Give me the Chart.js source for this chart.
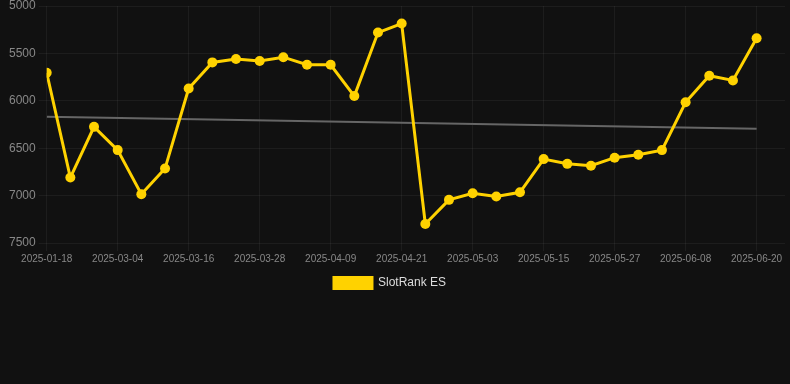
<!DOCTYPE html>
<html>
<head>
<meta charset="utf-8">
<script src="https://cdn.jsdelivr.net/npm/chart.js@4/dist/chart.umd.min.js"></script>
<style>
  html, body { margin: 0; padding: 0; background: #111111; }
  #wrap { width: 790px; height: 299px; position: relative; }
</style>
</head>
<body>
<div id="wrap"><canvas id="myChart"></canvas></div>
<script>
// dates of each point (one every 4 days after 03-04)
const dates = [
    "2025-01-18", "2025-02-24", "2025-02-28", "2025-03-04", "2025-03-08",
    "2025-03-12", "2025-03-16", "2025-03-20", "2025-03-24", "2025-03-28",
    "2025-04-01", "2025-04-05", "2025-04-09", "2025-04-13", "2025-04-17",
    "2025-04-21", "2025-04-25", "2025-04-29", "2025-05-03", "2025-05-07",
    "2025-05-11", "2025-05-15", "2025-05-19", "2025-05-23", "2025-05-27",
    "2025-05-31", "2025-06-04", "2025-06-08", "2025-06-12", "2025-06-16",
    "2025-06-20"
];
const rankES = [
    5705, 6810, 6275, 6520, 6985, 6715, 5870, 5595, 5560, 5580,
    5540, 5620, 5620, 5950, 5280, 5185, 7300, 7045, 6975, 7010,
    6965, 6615, 6665, 6685, 6600, 6570, 6520, 6015, 5735, 5785,
    5340
];
// trend line, only start and end
const trendStart = 6168;
const trendEnd = 6295;

const yTicks = [5000, 5500, 6000, 6500, 7000, 7500];
const labelStep = 3;

var mainData = [];
for (let i = 0; i < rankES.length; i++) {
    mainData.push({x: i, y: rankES[i]});
}
var trendData = [
    {x: 0, y: trendStart},
    {x: rankES.length - 1, y: trendEnd}
];

// legend sits a little left of centre in the original
const legendShift = {
    id: 'legendShift',
    afterLayout: function (chart) {
        chart.legend.left = 0;
        chart.legend.right = chart.width - 10;
    }
};

const gridColor = "rgba(255,255,255,0.05)";
const ctx = document.getElementById("myChart").getContext("2d");
window.myChart = new Chart(ctx, {
    type: 'line',
    plugins: [legendShift],
    data: {
        datasets: [
            { label: "SlotRank ES",
              data: mainData,
              borderColor: "#ffd200",
              backgroundColor: "#ffd200",
              borderWidth: 3,
              pointRadius: 5,
              pointBackgroundColor: "#ffd200",
              pointBorderWidth: 0,
              tension: 0,
              order: 1 },
            { label: "trend",
              data: trendData,
              borderColor: "#666666",
              borderWidth: 2,
              pointRadius: 0,
              fill: false,
              order: 2 }
        ]
    },
    options: {
        maintainAspectRatio: false,
        animation: false,
        layout: { padding: { top: 0, left: 6, right: 0 } },
        scales: {
            x: {
                type: 'linear',
                min: 0,
                max: 31.2,
                grid: { color: gridColor, tickLength: 8 },
                border: { display: false },
                ticks: {
                    stepSize: labelStep,
                    includeBounds: false,
                    color: "#888888",
                    font: { size: 10 },
                    padding: 2,
                    maxRotation: 0,
                    callback: function (value) {
                        if (Number.isInteger(value) && dates[value] != undefined) {
                            return dates[value];
                        }
                        return "";
                    }
                }
            },
            y: {
                reverse: true,
                min: yTicks[0],
                max: yTicks[yTicks.length - 1],
                grid: { color: gridColor, tickLength: 8 },
                border: { display: false },
                afterBuildTicks: function (axis) {
                    axis.ticks = yTicks.map(v => ({ value: v }));
                },
                ticks: {
                    color: "#888888",
                    font: { size: 12, lineHeight: 0.5 },
                    padding: 3,
                    callback: function (value) {
                        return "" + value;
                    }
                }
            }
        },
        plugins: {
            legend: {
                position: 'bottom',
                labels: {
                    color: "#dddddd",
                    font: { size: 12 },
                    boxWidth: 38,
                    boxHeight: 11,
                    filter: function (item) {
                        return item.text != "trend";
                    }
                }
            },
            tooltip: { enabled: false }
        }
    }
});
</script>
</body>
</html>
